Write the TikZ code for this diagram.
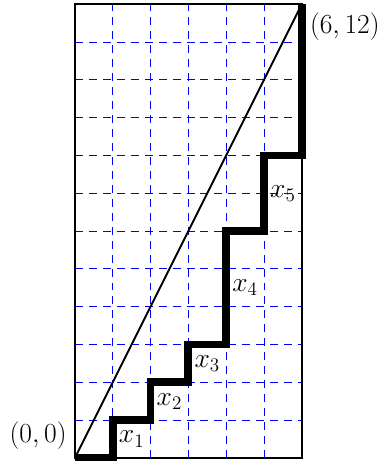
\documentclass[tikz,border=0pt]{standalone}
\begin{document}
\begin{tikzpicture}[x=1cm,y=1cm,
  gridline/.style={blue,line width=0.7pt,dash pattern=on 6pt off 4.5pt},
  frame/.style={black,line width=1.5pt},
  diag/.style={black,line width=1.4pt},
  stair/.style={black,line width=5.8pt},
  lbl/.style={font=\fontsize{19.5}{24}\selectfont,inner sep=6pt}]
\useasboundingbox (-1.98,-0.08) rectangle (8.02,12.11);
\foreach \i in {1,...,5} \draw[gridline] (\i,0) -- (\i,12);
\foreach \j in {1,...,11} \draw[gridline] (0,\j) -- (6,\j);
\coordinate (O) at (0,0);
\coordinate (T) at (6,12);
\draw[frame] (O) rectangle (T);
\draw[diag] (O) -- (T);
\draw[stair] (O) -- (1,0) -- (1,1) -- (2,1) -- (2,2) -- (3,2) -- (3,3) -- (4,3) -- (4,6) -- (5,6) -- (5,8) -- (6,8) -- (T);
\node[lbl,anchor=south east] (lo) at (O) {$(0,0)$};
\node[lbl,anchor=north west] (hi) at (T) {$(6,12)$};
\node[lbl] (x1) at (1.5,0.5) {$x_1$};
\node[lbl] (x2) at (2.5,1.5) {$x_2$};
\node[lbl] (x3) at (3.5,2.5) {$x_3$};
\node[lbl] (x4) at (4.5,4.5) {$x_4$};
\node[lbl] (x5) at (5.5,7) {$x_5$};
\end{tikzpicture}
\end{document}
